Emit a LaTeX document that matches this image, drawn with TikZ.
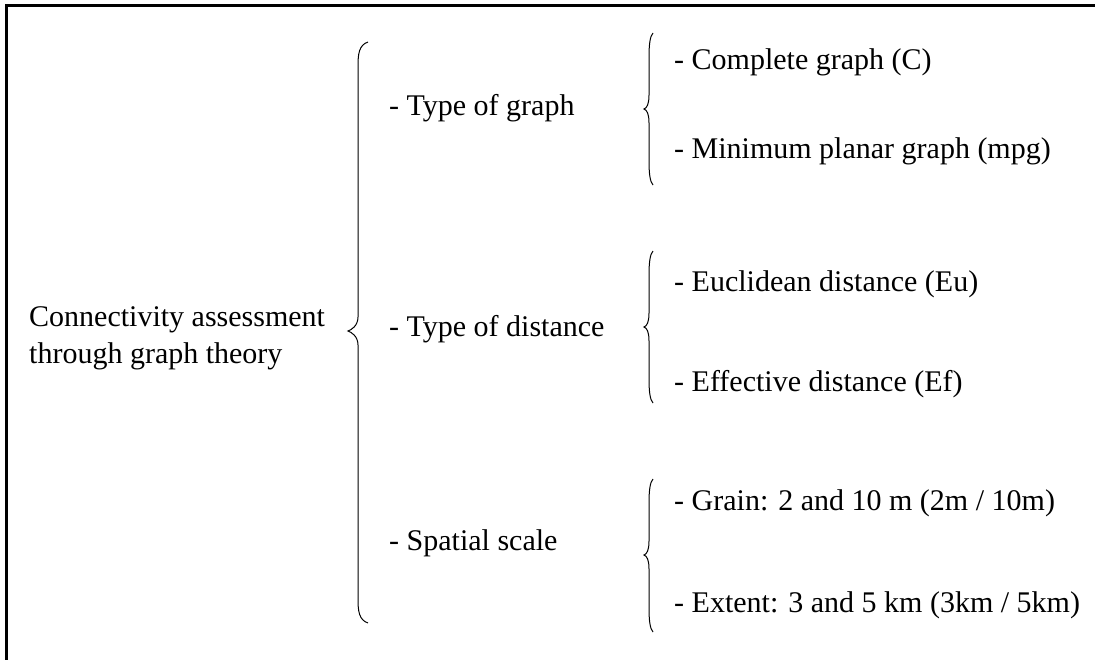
\documentclass[tikz,border=0pt]{standalone}
\usepackage{fontspec}
\setmainfont{Liberation Serif}
\newcommand\drawcurlybrace[6]{% xe, xv, xt, ytop, ymid, ybot
  \draw[bracestyle] (#1,#4) .. controls (#2+1,#4+3) and (#2,#4+12) .. (#2,#4+24)
    -- (#2,#5-14) .. controls (#2,#5-5) and (#3+3,#5-1) .. (#3,#5)
    .. controls (#3+3,#5+1) and (#2,#5+5) .. (#2,#5+14)
    -- (#2,#6-24) .. controls (#2,#6-12) and (#2+1,#6-3) .. (#1,#6);}
\begin{document}
\begin{tikzpicture}[x=1pt,y=-1pt,
  lbl/.style={anchor=base west, inner sep=0pt, font=\fontsize{30}{36}\selectfont},
  bracestyle/.style={line width=1pt, black},
  framestyle/.style={line width=2.6pt, black}]
\fill[white] (0,0) rectangle (1095,659);
\clip (0,0) rectangle (1095,659);
\useasboundingbox (0,0) rectangle (1095,659);
\draw[framestyle] (6.5,720) -- (6.5,5.5) -- (1120,5.5);

\node[lbl] (conn1) at (29,326) {Connectivity assessment};
\node[lbl] (conn2) at (29,363) {through graph theory};

\node[lbl] (tg) at (389,115) {- Type of graph};
\node[lbl] (td) at (389,336) {- Type of distance};
\node[lbl] (ss) at (389,550) {- Spatial scale};

\node[lbl] (c1) at (674,69) {- Complete graph (C)};
\node[lbl] (c2) at (674,158) {- Minimum planar graph (mpg)};
\node[lbl] (e1) at (674,291) {- Euclidean distance (Eu)};
\node[lbl] (e2) at (674,391) {- Effective distance (Ef)};
\node[lbl] (g1) at (674,510) {- Grain: 2 and 10 m (2m / 10m)};
\node[lbl] (g2) at (674,612) {- Extent: 3 and 5 km (3km / 5km)};

\drawcurlybrace{368}{358}{348}{42}{331}{623}
\drawcurlybrace{653}{649}{644}{33}{109}{185}
\drawcurlybrace{653}{649}{644}{251}{327}{403}
\drawcurlybrace{653}{649}{644}{479}{555}{632}
\end{tikzpicture}
\end{document}
